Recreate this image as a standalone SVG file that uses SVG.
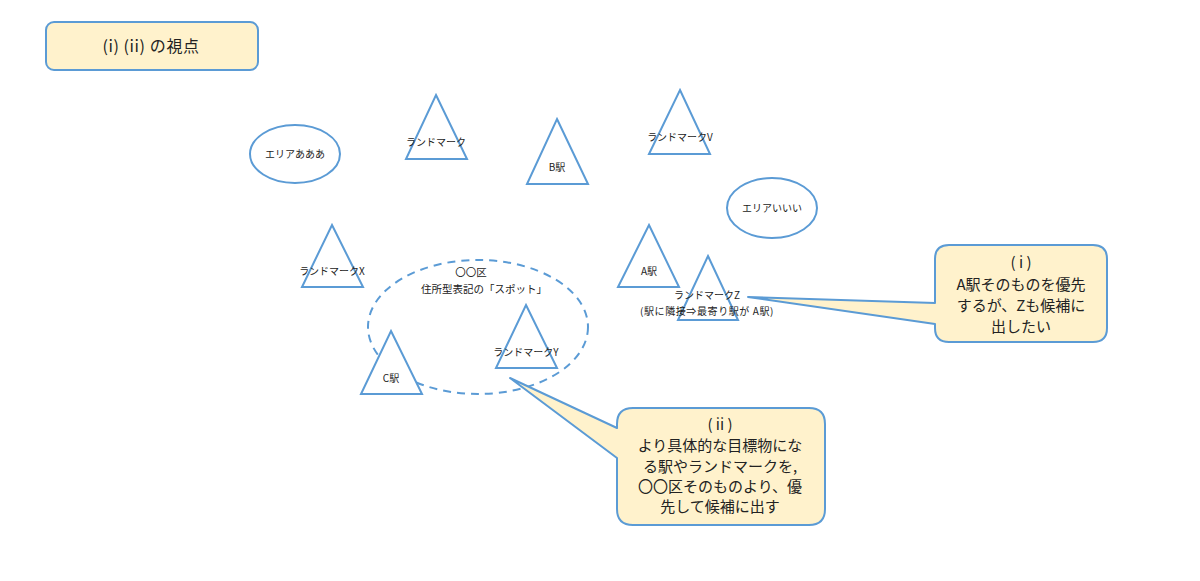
<svg xmlns="http://www.w3.org/2000/svg" width="1200" height="581" viewBox="0 0 1200 581">
<style>
.shape{fill:#ffffff;stroke:#5B9BD5;stroke-width:2}
.note{fill:#FFF2CC;stroke:#5B9BD5;stroke-width:2;stroke-linejoin:round}
.dash{fill:none;stroke:#5B9BD5;stroke-width:2;stroke-dasharray:8 6}
text{font-family:"Noto Sans CJK JP","Noto Sans",sans-serif;fill:#222222;text-anchor:middle}
.s{font-size:10px}
.m{font-size:10.5px}
.l{font-size:15px}
.t{font-size:16px}
</style>
<rect width="1200" height="581" fill="#ffffff"/>
<g id="title">
<rect class="note" x="46" y="22" width="212" height="48" rx="8"/>
<text class="t" x="151" y="52" letter-spacing="0.6">(i) (ii) の視点</text>
</g>
<g id="area-aaa">
<ellipse class="shape" cx="295" cy="154" rx="45" ry="29"/>
<text class="s" x="295" y="158">エリアあああ</text>
</g>
<g id="landmark">
<polygon class="shape" points="436,95 467,159 406,159"/>
<text class="s" x="436" y="146">ランドマーク</text>
</g>
<g id="station-b">
<polygon class="shape" points="557,119 588,184 527,184"/>
<text class="s" x="557" y="171">B駅</text>
</g>
<g id="landmark-v">
<polygon class="shape" points="680,90 710,154 649,154"/>
<text class="s" x="680" y="141">ランドマークV</text>
</g>
<g id="area-iii">
<ellipse class="shape" cx="772" cy="208" rx="45" ry="30"/>
<text class="s" x="772" y="212">エリアいいい</text>
</g>
<g id="landmark-x">
<polygon class="shape" points="332,225 363,287 302,287"/>
<text class="s" x="332" y="275">ランドマークX</text>
</g>
<g id="station-a">
<polygon class="shape" points="649,225 679,287 618,287"/>
<text class="s" x="649" y="275">A駅</text>
</g>
<g id="landmark-z">
<polygon class="shape" points="708,256 738,320 678,320"/>
<text class="s" x="707" y="299">ランドマークZ</text>
<text class="s" x="707" y="315" font-size="11" letter-spacing="0.6">(駅に隣接⇒最寄り駅が A駅)</text>
</g>
<g id="spot-area">
<ellipse class="dash" cx="478" cy="327" rx="110" ry="67"/>
<text class="m" x="471" y="276">〇〇区</text>
<text class="m" x="484" y="293">住所型表記の「スポット」</text>
</g>
<g id="landmark-y">
<polygon class="shape" points="526,305 557,368 496,368"/>
<text class="s" x="526" y="356">ランドマークY</text>
</g>
<g id="station-c">
<polygon class="shape" points="391,331 422,394 361,394"/>
<text class="s" x="391" y="382">C駅</text>
</g>
<g id="callout-i">
<path class="note" d="M949,245 H1093 Q1107,245 1107,259 V328 Q1107,342 1093,342 H949 Q935,342 935,328 V324 L748,297 L935,303 V259 Q935,245 949,245 Z"/>
<text class="l" x="1021" y="268">( i )</text>
<text class="l" x="1021" y="290">A駅そのものを優先</text>
<text class="l" x="1021" y="311">するが、Zも候補に</text>
<text class="l" x="1021" y="332">出したい</text>
</g>
<g id="callout-ii">
<path class="note" d="M633,408 H809 Q825,408 825,424 V509 Q825,525 809,525 H633 Q617,525 617,509 V458 L510,378 L617,428 V424 Q617,408 633,408 Z"/>
<text class="l" x="720" y="430">( ii )</text>
<text class="l" x="720" y="451">より具体的な目標物にな</text>
<text class="l" x="720" y="472">る駅やランドマークを,</text>
<text class="l" x="720" y="492">〇〇区そのものより、優</text>
<text class="l" x="720" y="512">先して候補に出す</text>
</g>
<g id="connectors"></g>
</svg>
